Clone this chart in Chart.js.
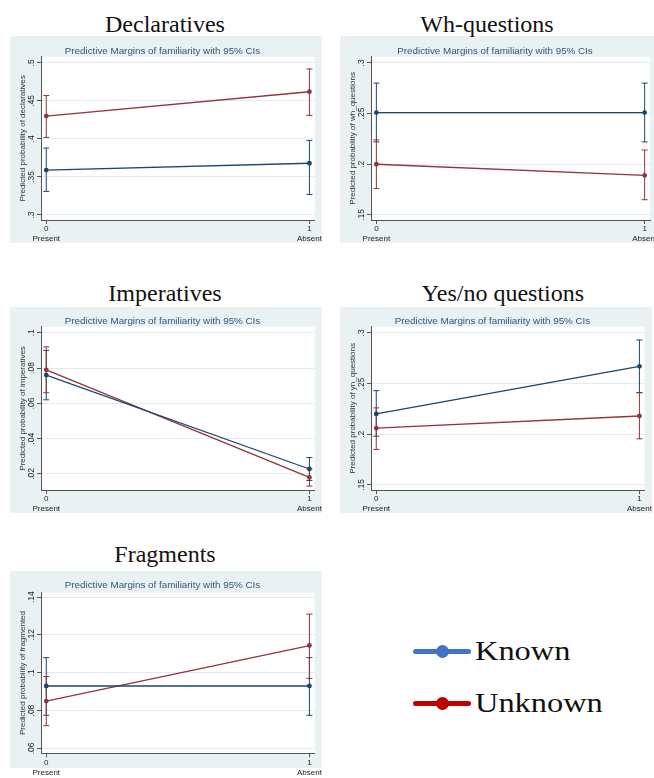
<!DOCTYPE html>
<html>
<head>
<meta charset="utf-8">
<script src="https://cdn.jsdelivr.net/npm/chart.js@4.4.1/dist/chart.umd.min.js"></script>
<style>
  html, body { margin: 0; padding: 0; background: #fff; }
  body { width: 654px; height: 778px; position: relative; overflow: hidden; }
  .bg { position: absolute; background: #eaf1f3; }
  canvas { position: absolute; }
  .ptitle { position: absolute; width: 300px; text-align: center; font: 24px/24px 'Liberation Serif', serif; color: #111; white-space: nowrap; }
  .leg-line { position: absolute; height: 5px; border-radius: 3px; }
  .leg-dot { position: absolute; width: 13px; height: 13px; border-radius: 50%; }
  .leg-text { position: absolute; font: 27px/27px 'Liberation Serif', serif; color: #111; transform: scaleX(1.2); transform-origin: left center; white-space: nowrap; }
</style>
</head>
<body>
<script>
// x categories
const xValues = [0, 1];
const xTickNumbers = ['0', '1'];
const xTickNames = ['Present', 'Absent'];
const seriesNames = ['Known', 'Unknown'];
const innerTitle = 'Predictive Margins of familiarity with 95% CIs';

// Declaratives
const declTicks = [0.3, 0.35, 0.4, 0.45, 0.5];
const declTickLabels = ['.3', '.35', '.4', '.45', '.5'];
const declKnown = [0.359, 0.368];
const declKnownLo = [0.331, 0.327];
const declKnownHi = [0.388, 0.398];
const declUnknown = [0.430, 0.462];
const declUnknownLo = [0.402, 0.431];
const declUnknownHi = [0.457, 0.492];

// Wh-questions
const whTicks = [0.15, 0.2, 0.25, 0.3];
const whTickLabels = ['.15', '.2', '.25', '.3'];
const whKnown = [0.251, 0.251];
const whKnownLo = [0.222, 0.222];
const whKnownHi = [0.280, 0.280];
const whUnknown = [0.200, 0.189];
const whUnknownLo = [0.176, 0.165];
const whUnknownHi = [0.224, 0.214];

// Imperatives
const impTicks = [0.02, 0.04, 0.06, 0.08, 0.1];
const impTickLabels = ['.02', '.04', '.06', '.08', '.1'];
const impKnown = [0.076, 0.0228];
const impKnownLo = [0.062, 0.0163];
const impKnownHi = [0.090, 0.0293];
const impUnknown = [0.079, 0.018];
const impUnknownLo = [0.066, 0.0131];
const impUnknownHi = [0.092, 0.0229];

// Yes/no questions
const ynTicks = [0.15, 0.2, 0.25, 0.3];
const ynTickLabels = ['.15', '.2', '.25', '.3'];
const ynKnown = [0.220, 0.267];
const ynKnownLo = [0.198, 0.241];
const ynKnownHi = [0.243, 0.293];
const ynUnknown = [0.206, 0.218];
const ynUnknownLo = [0.185, 0.1955];
const ynUnknownHi = [0.226, 0.241];

// Fragments
const fragTicks = [0.06, 0.08, 0.1, 0.12, 0.14];
const fragTickLabels = ['.06', '.08', '.1', '.12', '.14'];
const fragKnown = [0.093, 0.093];
const fragKnownLo = [0.0775, 0.0775];
const fragKnownHi = [0.108, 0.108];
const fragUnknown = [0.085, 0.1144];
const fragUnknownLo = [0.072, 0.097];
const fragUnknownHi = [0.098, 0.131];

const panels = [
    { title: 'Declaratives', yTitle: 'Predicted probability of declaratives', ticks: declTicks, tickLabels: declTickLabels,
      known: [declKnown, declKnownLo, declKnownHi], unknown: [declUnknown, declUnknownLo, declUnknownHi] },
    { title: 'Wh-questions', yTitle: 'Predicted probability of wh_questions', ticks: whTicks, tickLabels: whTickLabels,
      known: [whKnown, whKnownLo, whKnownHi], unknown: [whUnknown, whUnknownLo, whUnknownHi] },
    { title: 'Imperatives', yTitle: 'Predicted probability of imperatives', ticks: impTicks, tickLabels: impTickLabels,
      known: [impKnown, impKnownLo, impKnownHi], unknown: [impUnknown, impUnknownLo, impUnknownHi] },
    { title: 'Yes/no questions', yTitle: 'Predicted probability of yn_questions', ticks: ynTicks, tickLabels: ynTickLabels,
      known: [ynKnown, ynKnownLo, ynKnownHi], unknown: [ynUnknown, ynUnknownLo, ynUnknownHi] },
    { title: 'Fragments', yTitle: 'Predicted probability of fragmented', ticks: fragTicks, tickLabels: fragTickLabels,
      known: [fragKnown, fragKnownLo, fragKnownHi], unknown: [fragUnknown, fragUnknownLo, fragUnknownHi] }
];

// placement of each panel on the page
const layouts = [
    { left: 10, top: 36, w: 312, bgH: 207, h: 207, rightPad: 7, titleTop: 9, titleBottom: 0, xAxisH: 23, yMin: 0.2934, yMax: 0.508, headTop: 12, headX: 165 },
    { left: 340, top: 36, w: 320, bgH: 207, h: 207, rightPad: 10, titleTop: 9, titleBottom: 0, xAxisH: 23, yMin: 0.145, yMax: 0.306, headTop: 12, headX: 487 },
    { left: 10, top: 307, w: 312, bgH: 206, h: 206, rightPad: 7, titleTop: 8, titleBottom: 0, xAxisH: 23, yMin: 0.0109, yMax: 0.1034, headTop: 281, headX: 165 },
    { left: 340, top: 307, w: 312, bgH: 206, h: 206, rightPad: 7, titleTop: 8, titleBottom: 0, xAxisH: 23, yMin: 0.145, yMax: 0.306, headTop: 281, headX: 503 },
    { left: 10, top: 571, w: 312, bgH: 197, h: 205, rightPad: 7, titleTop: 8, titleBottom: 2, xAxisH: 22.7, yMin: 0.0574, yMax: 0.1423, headTop: 542, headX: 165 }
];

const knownColor = '#1a476f';
const unknownColor = '#90353b';

// white plot region, CI caps, rotated y tick labels
const stataPlugin = {
    id: 'stataPlugin',
    beforeDraw(chart) {
        const a = chart.chartArea;
        const ctx = chart.ctx;
        ctx.save();
        ctx.fillStyle = '#ffffff';
        ctx.fillRect(a.left, a.top, a.right - a.left, a.bottom - a.top);
        ctx.restore();
    },
    beforeDatasetsDraw(chart) {
        const ctx = chart.ctx;
        const yScale = chart.scales.y;
        chart.data.datasets.forEach((ds, i) => {
            const meta = chart.getDatasetMeta(i);
            ctx.save();
            ctx.strokeStyle = ds.borderColor;
            ctx.lineWidth = 1;
            meta.data.forEach((pt, j) => {
                const yl = yScale.getPixelForValue(ds.lo[j]);
                const yh = yScale.getPixelForValue(ds.hi[j]);
                ctx.beginPath();
                ctx.moveTo(pt.x, yl); ctx.lineTo(pt.x, yh);
                ctx.moveTo(pt.x - 3, yl); ctx.lineTo(pt.x + 3, yl);
                ctx.moveTo(pt.x - 3, yh); ctx.lineTo(pt.x + 3, yh);
                ctx.stroke();
            });
            ctx.restore();
        });
    },
    afterDraw(chart) {
        const ctx = chart.ctx;
        const yScale = chart.scales.y;
        const labels = chart.options.plugins.stataPlugin.tickLabels;
        ctx.save();
        ctx.fillStyle = '#222';
        ctx.font = '8.5px "Liberation Sans", Arial, sans-serif';
        ctx.textAlign = 'center';
        ctx.textBaseline = 'middle';
        yScale.ticks.forEach((t, i) => {
            const y = yScale.getPixelForValue(t.value);
            ctx.save();
            ctx.translate(chart.chartArea.left - 9, y);
            ctx.rotate(-Math.PI / 2);
            ctx.fillText(labels[i], 0, 0);
            ctx.restore();
        });
        ctx.restore();
    }
};

function makeDataset(name, vals, color) {
    return {
        label: name,
        data: xValues.map((x, i) => ({ x: x, y: vals[0][i] })),
        lo: vals[1],
        hi: vals[2],
        borderColor: color,
        backgroundColor: color,
        borderWidth: 1.3,
        pointRadius: 2.4,
        pointBorderWidth: 0,
        pointBackgroundColor: color
    };
}

panels.forEach((p, k) => {
    const L = layouts[k];

    const bg = document.createElement('div');
    bg.className = 'bg';
    bg.style.left = L.left + 'px';
    bg.style.top = L.top + 'px';
    bg.style.width = L.w + 'px';
    bg.style.height = L.bgH + 'px';
    document.body.appendChild(bg);

    const head = document.createElement('div');
    head.className = 'ptitle';
    head.textContent = p.title;
    head.style.left = (L.headX - 150) + 'px';
    head.style.top = L.headTop + 'px';
    document.body.appendChild(head);

    const cv = document.createElement('canvas');
    cv.width = L.w;
    cv.height = L.h;
    cv.style.left = L.left + 'px';
    cv.style.top = L.top + 'px';
    cv.style.width = L.w + 'px';
    cv.style.height = L.h + 'px';
    document.body.appendChild(cv);

    new Chart(cv.getContext('2d'), {
        type: 'line',
        data: {
            datasets: [
                makeDataset(seriesNames[0], p.known, knownColor),
                makeDataset(seriesNames[1], p.unknown, unknownColor)
            ]
        },
        options: {
            responsive: false,
            animation: false,
            devicePixelRatio: 1,
            layout: { padding: { left: 0, right: L.rightPad, top: 0, bottom: 0 } },
            plugins: {
                legend: { display: false },
                tooltip: { enabled: false },
                title: {
                    display: true,
                    text: innerTitle,
                    color: '#34557a',
                    font: { family: '"Liberation Sans", Arial, sans-serif', size: 9.8, weight: 'normal', lineHeight: 1.2 },
                    padding: { top: L.titleTop, bottom: L.titleBottom }
                },
                stataPlugin: { tickLabels: p.tickLabels }
            },
            scales: {
                x: {
                    type: 'linear',
                    min: -0.02,
                    max: 1.02,
                    afterBuildTicks(scale) { scale.ticks = xValues.map(v => ({ value: v })); },
                    afterFit(scale) { scale.height = L.xAxisH; },
                    ticks: {
                        autoSkip: false,
                        maxRotation: 0,
                        padding: 0,
                        color: '#222',
                        font: { family: '"Liberation Sans", Arial, sans-serif', size: 8, lineHeight: 1.25 },
                        callback: (v, i) => [xTickNumbers[i], xTickNames[i]]
                    },
                    grid: { drawOnChartArea: false, tickLength: 4, tickColor: '#555', color: '#555' },
                    border: { color: '#555', width: 1 }
                },
                y: {
                    min: L.yMin,
                    max: L.yMax,
                    afterBuildTicks(scale) { scale.ticks = p.ticks.map(v => ({ value: v })); },
                    afterFit(scale) { scale.width = 31; },
                    ticks: { display: false },
                    grid: { color: '#e3ebee', lineWidth: 1, tickLength: 4, tickColor: '#555' },
                    border: { color: '#555', width: 1 },
                    title: {
                        display: true,
                        text: p.yTitle,
                        color: '#333',
                        font: { family: '"Liberation Sans", Arial, sans-serif', size: 8, lineHeight: 1.2 },
                        padding: { top: 8.2, bottom: 0 }
                    }
                }
            }
        },
        plugins: [stataPlugin]
    });
});

// figure legend
const legendItems = [
    { name: seriesNames[0], color: '#4472c4', y: 651, textTop: 638 },
    { name: seriesNames[1], color: '#c00000', y: 703, textTop: 690 }
];
legendItems.forEach(it => {
    const line = document.createElement('div');
    line.className = 'leg-line';
    line.style.left = '413px';
    line.style.width = '58px';
    line.style.top = (it.y - 2.5) + 'px';
    line.style.background = it.color;
    document.body.appendChild(line);

    const dot = document.createElement('div');
    dot.className = 'leg-dot';
    dot.style.left = (442 - 6.5) + 'px';
    dot.style.top = (it.y - 6.5) + 'px';
    dot.style.background = it.color;
    document.body.appendChild(dot);

    const txt = document.createElement('div');
    txt.className = 'leg-text';
    txt.textContent = it.name;
    txt.style.left = '475px';
    txt.style.top = it.textTop + 'px';
    document.body.appendChild(txt);
});
</script>
</body>
</html>
